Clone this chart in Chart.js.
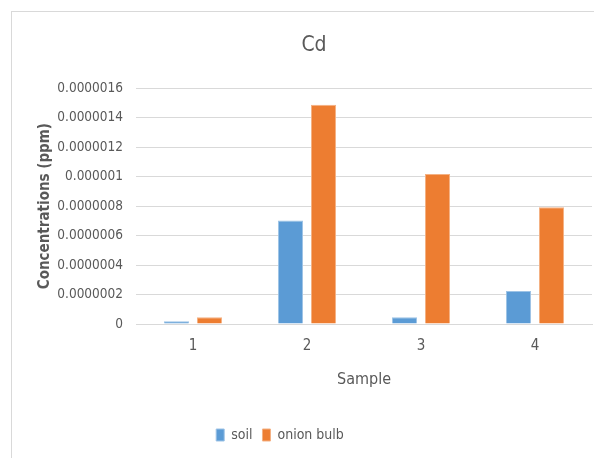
<!DOCTYPE html>
<html>
<head>
<meta charset="utf-8">
<script src="https://cdn.jsdelivr.net/npm/chart.js@4/dist/chart.umd.min.js"></script>
<style>
  html, body { margin: 0; padding: 0; background: #fff; }
  #wrap { position: relative; width: 594px; height: 458px; }
  #frame { position: absolute; left: 11px; top: 11px; right: -2px; bottom: -2px;
           border: 1px solid #d9d9d9; pointer-events: none; }
  canvas { position: absolute; left: 0; top: 0; }
</style>
</head>
<body>
<div id="wrap">
  <canvas id="c" width="594" height="458"></canvas>
  <div id="frame"></div>
</div>
<script>
const categories = ['1', '2', '3', '4'];
const soilValues = [0.000000018, 0.000000703, 0.000000045, 0.000000224];
const onionBulbValues = [0.000000046, 0.000001487, 0.000001018, 0.000000793];
const yTickLabels = ['0', '0.0000002', '0.0000004', '0.0000006', '0.0000008',
                     '0.000001', '0.0000012', '0.0000014', '0.0000016'];

const FONT = '"Liberation Sans Narrow", "DejaVu Sans Condensed", "Open Sans", sans-serif';
const TEXT = '#595959';

// The legend sits a little left of the page centre, under the frame's middle.
const legendShift = {
  id: 'legendShift',
  afterLayout(chart) {
    const lg = chart.legend;
    if (lg) { lg.left -= 34; lg.right -= 34; }
  }
};

new Chart(document.getElementById('c'), {
  type: 'bar',
  data: {
    labels: categories,
    datasets: [
      { label: 'soil', data: soilValues, backgroundColor: '#5B9BD5',
        borderColor: '#9DC3E6', borderWidth: 1 },
      { label: 'onion bulb', data: onionBulbValues, backgroundColor: '#ED7D31',
        borderColor: '#F4B183', borderWidth: 1 }
    ]
  },
  plugins: [legendShift],
  options: {
    responsive: false,
    animation: false,
    devicePixelRatio: 1,
    categoryPercentage: 0.58,
    barPercentage: 0.76,
    layout: { padding: { left: 36, right: 2, top: 33, bottom: 6 } },
    plugins: {
      title: {
        display: true, text: 'Cd', color: TEXT,
        font: { family: FONT, size: 21, weight: 'normal' },
        padding: { top: 0, bottom: 30 }
      },
      legend: {
        position: 'bottom',
        labels: {
          color: TEXT, boxWidth: 8, boxHeight: 12, padding: 10,
          font: { family: FONT, size: 14 }
        }
      },
      tooltip: { enabled: false }
    },
    scales: {
      x: {
        grid: { display: false, drawTicks: false },
        border: { color: '#d9d9d9', width: 1 },
        ticks: { color: TEXT, font: { family: FONT, size: 15 }, padding: 13 },
        title: { display: true, text: 'Sample', color: TEXT,
                 font: { family: FONT, size: 16 }, padding: { top: 0, bottom: 29 } },
        afterFit: s => { s.height = 94; }
      },
      y: {
        min: 0, max: 0.0000016,
        ticks: {
          stepSize: 0.0000002, color: TEXT, padding: 13,
          font: { family: FONT, size: 13.5 },
          callback: (v, i) => yTickLabels[i]
        },
        grid: { color: '#d9d9d9', drawTicks: false },
        border: { display: false },
        title: { display: true, text: 'Concentrations (ppm)', color: TEXT,
                 font: { family: FONT, size: 15, weight: 'bold' }, padding: 0 },
        afterFit: s => { s.width = 100; }
      }
    }
  }
});
</script>
</body>
</html>
